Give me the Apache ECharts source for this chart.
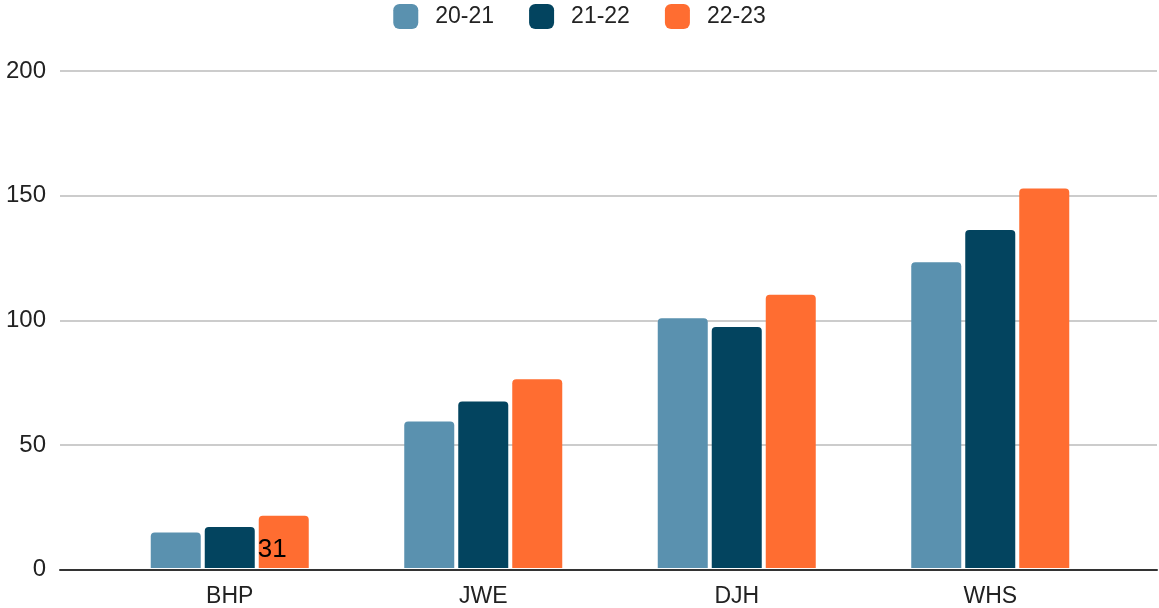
<!DOCTYPE html>
<html>
<head>
<meta charset="utf-8">
<script src="https://cdn.jsdelivr.net/npm/echarts@6/dist/echarts.min.js"></script>
<style>
html,body{margin:0;padding:0;background:#fff;}
#chart{width:1159px;height:608px;}
</style>
</head>
<body>
<div id="chart"></div>
<script>
const categories = ['BHP', 'JWE', 'DJH', 'WHS'];
const seriesNames = ['20-21', '21-22', '22-23'];
const values2021 = [14.3, 59, 100.5, 123];
const values2122 = [16.5, 67, 97, 136];
const values2223 = [21, 76, 110, 152.7];
const yTicks = [0, 50, 100, 150, 200];
const strayLabel = '31';

const colors = ['#5A91AF', '#03445F', '#FF6D31'];
const FONT = '"Liberation Sans", Arial, sans-serif';

const chart = echarts.init(document.getElementById('chart'), null, {renderer: 'canvas'});

const seriesData = [values2021, values2122, values2223.map((v, i) => i === 0 ? {
  value: v,
  label: {
    show: true, formatter: strayLabel, position: 'insideBottomLeft', distance: 0,
    offset: [-1, -5], fontSize: 26, color: '#000', fontFamily: FONT
  }
} : v)];

const option = {
  animation: false,
  backgroundColor: '#fff',
  legend: {
    top: 4,
    left: 'center',
    padding: 0,
    itemWidth: 25,
    itemHeight: 25,
    itemGap: 35,
    icon: 'roundRect',
    textStyle: {fontSize: 23, color: '#222', fontFamily: FONT, padding: [0, 0, 0, 12]},
    data: seriesNames
  },
  grid: [
    {left: 60, right: 2, top: 71, bottom: 38.5, containLabel: false},
    {left: 103, right: 42, top: 71, bottom: 38.5, containLabel: false}
  ],
  xAxis: [
    {gridIndex: 0, type: 'value', min: 0, max: 1, axisLabel: {show: false}, axisTick: {show: false},
     splitLine: {show: false}, axisLine: {show: true, lineStyle: {color: '#333', width: 2}}},
    {gridIndex: 1, type: 'category', data: categories, axisLine: {show: false}, axisTick: {show: false},
     axisLabel: {fontSize: 23, color: '#222', fontFamily: FONT, margin: 17}}
  ],
  yAxis: [
    {gridIndex: 0, type: 'value', min: 0, max: 200, interval: 50,
     axisLine: {show: false}, axisTick: {show: false},
     axisLabel: {fontSize: 24, color: '#222', fontFamily: FONT, margin: 14,
       formatter: v => yTicks.includes(v) ? String(v) : ''},
     splitLine: {show: true, lineStyle: {color: '#cccccc', width: 2}}},
    {gridIndex: 1, type: 'value', min: 0, max: 200, interval: 50, show: false, splitLine: {show: false}}
  ],
  series: seriesNames.map((name, i) => ({
    name: name,
    type: 'bar',
    xAxisIndex: 1,
    yAxisIndex: 1,
    barWidth: 50,
    barGap: '8%',
    itemStyle: {color: colors[i], borderRadius: [4, 4, 0, 0]},
    data: seriesData[i]
  }))
};
chart.setOption(option);
</script>
</body>
</html>
